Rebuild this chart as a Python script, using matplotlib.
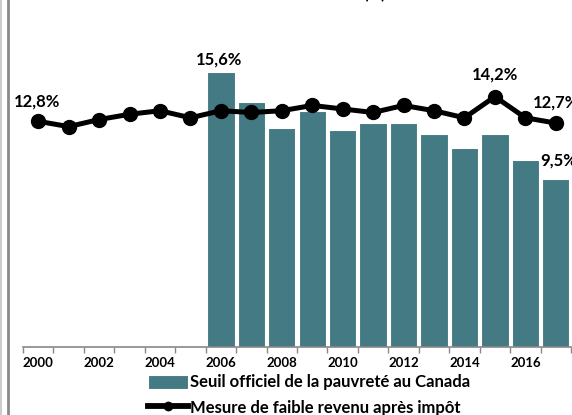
import matplotlib
matplotlib.use('Agg')
import matplotlib.pyplot as plt
from matplotlib.lines import Line2D

plt.rcParams['font.family'] = ['Lato', 'DejaVu Sans']

# données (%)
years = list(range(2000, 2018))
mfr_api = [12.8, 12.5, 12.9, 13.2, 13.4, 13.0, 13.4, 13.3, 13.4, 13.7,
           13.5, 13.3, 13.7, 13.4, 13.0, 14.2, 13.0, 12.7]
seuil_years = list(range(2006, 2018))
seuil_officiel = [15.6, 13.9, 12.4, 13.4, 12.3, 12.7, 12.7, 12.1, 11.3, 12.1, 10.6, 9.5]
tick_labels = [str(y) if y % 2 == 0 else '' for y in years]

bar_color = '#437a84'

fig = plt.figure(figsize=(5.72, 4.15), dpi=100)
ax = fig.add_axes([23 / 572, 68 / 415, 548 / 572, 347 / 415])

x_line = [years.index(y) for y in years]
x_bar = [years.index(y) for y in seuil_years]

bars = ax.bar(x_bar, seuil_officiel, width=0.9, color=bar_color, edgecolor='white',
              linewidth=0.8, zorder=2)
line, = ax.plot(x_line, mfr_api, color='black', linewidth=3.6, marker='o', markersize=10,
                zorder=3)

ax.set_xlim(-0.5, len(years) - 0.5)
ax.set_ylim(0, 19.68)

# étiquettes de valeurs
lab = dict(ha='center', va='center', fontsize=12, fontweight='bold',
           textcoords='offset points', annotation_clip=False)
ax.annotate('12,8%', (0, mfr_api[0]), xytext=(-1, 14), **lab)
ax.annotate('15,6%', (x_bar[0], seuil_officiel[0]), xytext=(-1, 9), **lab)
ax.annotate('14,2%', (15, mfr_api[15]), xytext=(0, 16), **lab)
ax.annotate('12,7%', (17, mfr_api[17]), xytext=(0, 15), **lab)
ax.annotate('9,5%', (x_bar[-1], seuil_officiel[-1]), xytext=(2, 14), **lab)

# axes
for s in ['top', 'right', 'left']:
    ax.spines[s].set_visible(False)
ax.spines['bottom'].set_color('#888888')
ax.spines['bottom'].set_linewidth(1.2)
ax.set_yticks([])
ax.set_xticks([i - 0.5 for i in range(len(years) + 1)], minor=False)
ax.set_xticklabels([])
ax.set_xticks(x_line, minor=True)
ax.set_xticklabels(tick_labels, minor=True, fontsize=9.5, fontweight='bold')
ax.tick_params(axis='x', which='major', length=4, color='#888888', width=1)
ax.tick_params(axis='x', which='minor', length=0, pad=7)

leg_line = Line2D([], [], color='black', linewidth=4.2, marker='o', markersize=6)
leg = ax.legend([bars, leg_line],
                ['Seuil officiel de la pauvreté au Canada',
                 'Mesure de faible revenu après impôt'],
                loc='upper left', bbox_to_anchor=(118 / 548, -0.06), frameon=False,
                fontsize=12, handlelength=2.4, handleheight=0.9, handletextpad=0.15,
                labelspacing=0.55, borderaxespad=0)
for t in leg.get_texts():
    t.set_fontweight('bold')

# titre coupé en haut
fig.text(375 / 572, 1 + 1 / 415, '(%)', ha='center', va='baseline',
         fontsize=12, fontweight='bold')

# bordure gauche
fig.add_artist(Line2D([1 / 572, 1 / 572], [0, 1], color='#cccccc', linewidth=1.5))
fig.add_artist(Line2D([7.5 / 572, 7.5 / 572], [0, 1], color='#8a8a8a', linewidth=2))

fig.savefig('out.png', dpi=100)
